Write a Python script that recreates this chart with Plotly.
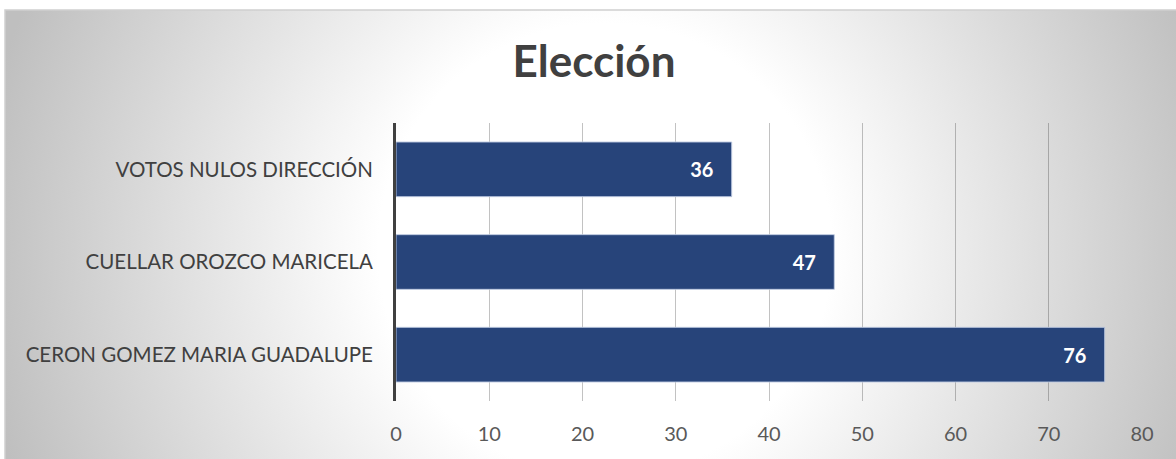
import base64
import plotly.graph_objects as go

categories = ["CERON GOMEZ MARIA GUADALUPE", "CUELLAR OROZCO MARICELA", "VOTOS NULOS DIRECCIÓN"]
votes = [76, 47, 36]
x_ticks = [0, 10, 20, 30, 40, 50, 60, 70, 80]
title_text = "Elección"

W, H = 1176, 459
L, R, T, B = 396, 34, 123, 58
pw, ph = W - L - R, H - T - B

svg = (
    '<svg xmlns="http://www.w3.org/2000/svg" width="1171" height="449" viewBox="0 0 1171 449" preserveAspectRatio="none">'
    '<defs><radialGradient id="g" gradientUnits="userSpaceOnUse" cx="600" cy="240" r="630">'
    '<stop offset="0" stop-color="#ffffff"/><stop offset="0.36" stop-color="#ffffff"/>'
    '<stop offset="1" stop-color="#bfbfbf"/></radialGradient></defs>'
    '<rect x="0" y="0" width="1171" height="449" fill="url(#g)"/></svg>'
)
src = "data:image/svg+xml;base64," + base64.b64encode(svg.encode()).decode()

fx0 = (5 - L) / pw
fx1 = (W - L) / pw
fy1 = (H - B - 10) / ph
fy0 = (H - B - H) / ph

fig = go.Figure(go.Bar(
    y=categories, x=votes, orientation="h",
    marker=dict(color="#27447a", line=dict(color="rgba(190,202,225,0.9)", width=1)),
    text=votes, texttemplate="<b>%{x}</b>\u00a0\u00a0\u00a0", textposition="inside",
    insidetextanchor="end", textfont=dict(color="white", size=20, family="Lato"),
    width=0.59, cliponaxis=False,
))

fig.update_layout(
    width=W, height=H,
    margin=dict(l=L, r=R, t=T, b=B, pad=0),
    paper_bgcolor="white", plot_bgcolor="rgba(0,0,0,0)",
    showlegend=False,
    title=dict(text="<b>" + title_text + "</b>", x=594 / W, xanchor="center",
               y=1 - 62 / H, yanchor="middle", yref="container",
               font=dict(family="Lato", size=44, color="#404040")),
    images=[dict(source=src, xref="paper", yref="paper", x=fx0, y=fy1,
                 sizex=fx1 - fx0, sizey=fy1 - fy0, sizing="stretch",
                 xanchor="left", yanchor="top", layer="below")],
    shapes=[dict(type="rect", xref="paper", yref="paper", x0=fx0, x1=fx1 + 0.01,
                 y0=fy0 - 0.01, y1=fy1, line=dict(color="#d0d0d0", width=1.5),
                 fillcolor="rgba(0,0,0,0)", layer="below")],
    xaxis=dict(range=[0, 80], tickvals=x_ticks, showgrid=True,
               gridcolor="rgba(0,0,0,0.24)", gridwidth=1, zeroline=False,
               showline=False, ticks="", ticklabelstandoff=19,
               tickfont=dict(family="Lato", size=20, color="#595959"),
               layer="above traces", fixedrange=True),
    yaxis=dict(showline=True, linecolor="#404040", linewidth=3, ticks="",
               showgrid=False, ticklabelstandoff=16,
               tickfont=dict(family="Lato", size=20.5, color="#404040"),
               layer="above traces", fixedrange=True),
    bargap=0.41,
)

fig.write_html("out.html", config={"displayModeBar": False},
               post_script="document.body.style.margin='0';")
